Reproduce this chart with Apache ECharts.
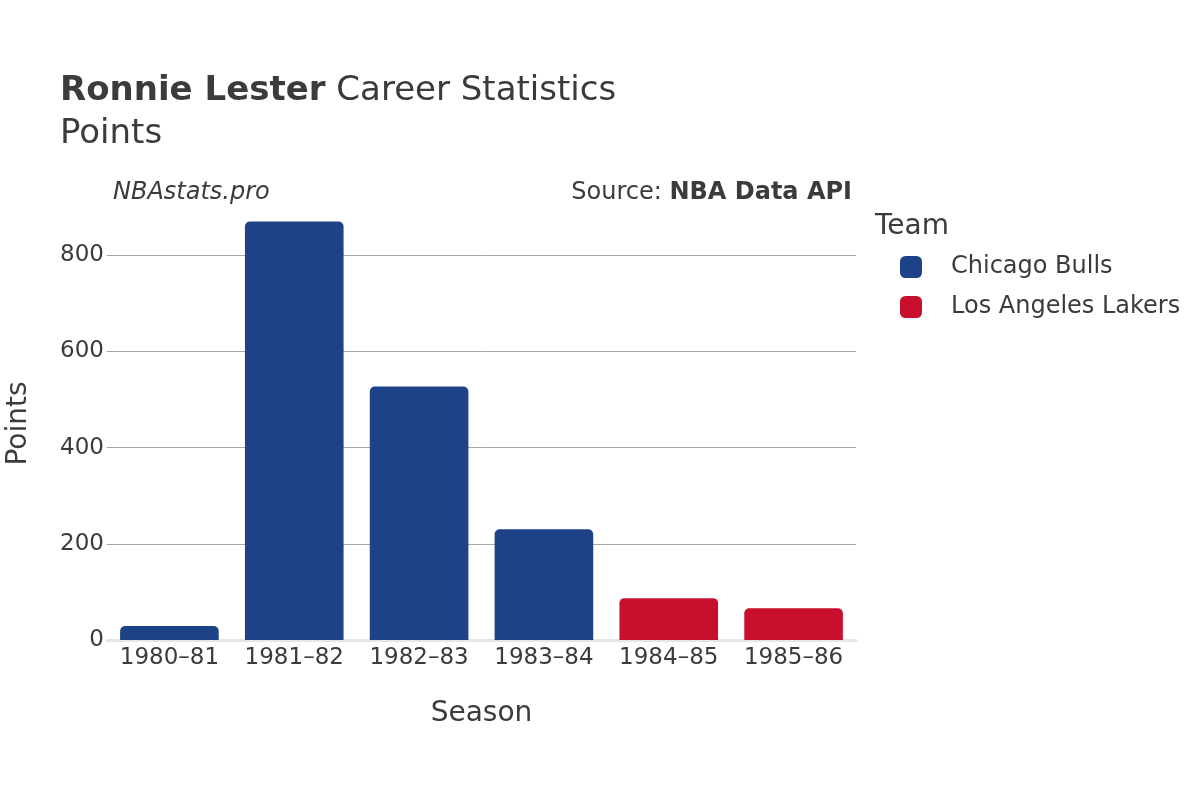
<!DOCTYPE html>
<html>
<head>
<meta charset="utf-8">
<script src="https://cdn.jsdelivr.net/npm/echarts@6/dist/echarts.min.js"></script>
<style>
  html, body { margin: 0; padding: 0; background: #fff; }
  #chart { width: 1200px; height: 800px; }
</style>
</head>
<body>
<div id="chart"></div>
<script>
// seasons and points per team
const seasons = ['1980–81', '1981–82', '1982–83', '1983–84', '1984–85', '1985–86'];
const bullsPoints = [29, 870, 527, 230, '-', '-'];
const lakersPoints = ['-', '-', '-', '-', 87, 66];
const yTicks = [0, 200, 400, 600, 800];

const font = 'DejaVu Sans';
const textColor = '#3b3b3b';

const chart = echarts.init(document.getElementById('chart'));

const option = {
  animation: false,
  textStyle: { fontFamily: font },
  title: [
    {
      text: '{b|Ronnie Lester}{n| Career Statistics}',
      left: 60,
      top: 74,
      padding: 0,
      textStyle: {
        fontWeight: 'normal',
        rich: {
          b: { fontFamily: font, fontSize: 34, fontWeight: 'bold', color: textColor },
          n: { fontFamily: font, fontSize: 34, fontWeight: 'normal', color: textColor }
        }
      }
    },
    {
      text: 'Points',
      left: 60,
      top: 117,
      padding: 0,
      textStyle: { fontFamily: font, fontSize: 34, fontWeight: 'normal', color: textColor }
    },
    {
      text: 'NBAstats.pro',
      left: 113,
      top: 181,
      padding: 0,
      textStyle: { fontFamily: font, fontSize: 24, fontStyle: 'italic', fontWeight: 'normal', color: textColor }
    },
    {
      text: 'Source: {b|NBA Data API}',
      right: 348,
      top: 181,
      padding: 0,
      textStyle: {
        fontFamily: font, fontSize: 24, fontWeight: 'normal', color: textColor,
        rich: { b: { fontFamily: font, fontSize: 24, fontWeight: 'bold', color: textColor } }
      }
    },
    {
      text: 'Team',
      left: 875,
      top: 213,
      padding: 0,
      textStyle: { fontFamily: font, fontSize: 28, fontWeight: 'normal', color: textColor }
    }
  ],
  legend: {
    orient: 'vertical',
    left: 900,
    top: 255,
    padding: 0,
    itemWidth: 22,
    itemHeight: 22,
    itemGap: 16,
    icon: 'roundRect',
    textStyle: { fontFamily: font, fontSize: 24, color: textColor, padding: [0, 0, 0, 24] },
    data: ['Chicago Bulls', 'Los Angeles Lakers']
  },
  grid: {
    left: 107,
    right: 344,
    top: 207,
    bottom: 160,
    outerBoundsMode: 'none'
  },
  xAxis: {
    type: 'category',
    data: seasons,
    name: 'Season',
    nameLocation: 'middle',
    nameGap: 60,
    nameTextStyle: { fontFamily: font, fontSize: 28, color: textColor },
    axisLine: { lineStyle: { color: '#e6e6e6', width: 3 } },
    axisTick: { show: false },
    axisLabel: { fontFamily: font, fontSize: 23, color: textColor, margin: 7, interval: 0 }
  },
  yAxis: {
    type: 'value',
    min: 0,
    max: 900,
    interval: 200,
    name: 'Points',
    nameLocation: 'middle',
    nameGap: 74,
    nameTextStyle: { fontFamily: font, fontSize: 28, color: textColor },
    axisLine: { show: false },
    axisTick: { show: false },
    axisLabel: {
      fontFamily: font, fontSize: 23, color: textColor, margin: 3,
      showMaxLabel: false,
      formatter: function (v) { return yTicks.indexOf(v) >= 0 ? String(v) : ''; }
    },
    splitLine: { showMinLine: false, showMaxLine: false, lineStyle: { color: '#a6a6a6', width: 1 } }
  },
  series: [
    {
      name: 'Chicago Bulls',
      type: 'bar',
      stack: 'pts',
      barCategoryGap: '21%',
      data: bullsPoints,
      itemStyle: { color: '#1d4287', borderRadius: [5, 5, 0, 0] }
    },
    {
      name: 'Los Angeles Lakers',
      type: 'bar',
      stack: 'pts',
      barCategoryGap: '21%',
      data: lakersPoints,
      itemStyle: { color: '#c8102e', borderRadius: [5, 5, 0, 0] }
    }
  ]
};

chart.setOption(option);
</script>
</body>
</html>
